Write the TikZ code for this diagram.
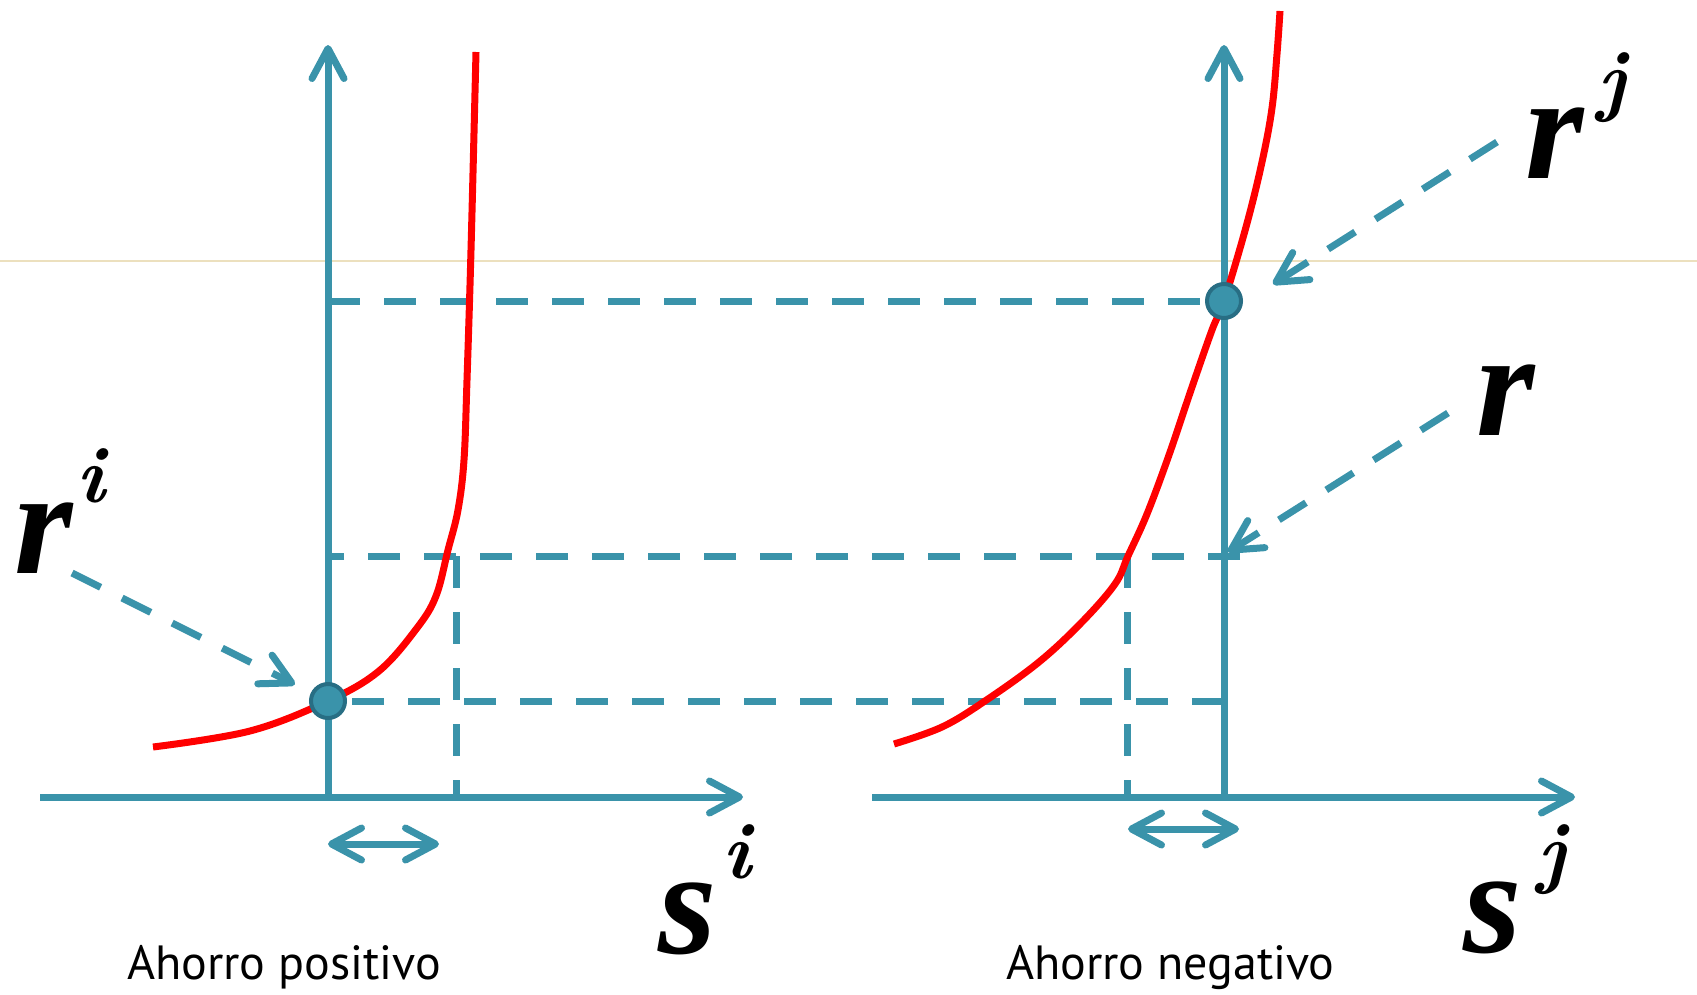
\documentclass[tikz,border=0pt]{standalone}
\usepackage{fontspec}
\newfontfamily\labfont{Liberation Serif}
\newfontfamily\capfont{PT Sans}
\usepackage{xcolor}
\usepackage{tikz}
\usetikzlibrary{arrows.meta,positioning,calc}

\definecolor{axisteal}{RGB}{58,147,170}
\definecolor{dotrim}{RGB}{40,110,132}
\definecolor{guidebeige}{RGB}{236,224,190}
\newcommand{\supfont}{\rmfamily\fontsize{80}{80}\selectfont\bfseries\itshape}

\begin{document}
\begin{tikzpicture}[
  x=1pt, y=-1pt,
  >={Straight Barb[length=30pt, width=32pt, round]},
  axis/.style={->, line width=7pt, axisteal},
  guide/.style={line width=7pt, axisteal, dash pattern=on 32pt off 24pt},
  pointer/.style={guide, ->},
  span/.style={<->, line width=7pt, axisteal},
  demand/.style={line width=7pt, red},
  eqpt/.style={circle, fill=axisteal, draw=dotrim, line width=4pt, minimum size=34pt, inner sep=0pt},
  biglab/.style={inner sep=0pt, anchor=base west, font=\labfont\fontsize{150}{150}\selectfont\bfseries\itshape},
  caption/.style={inner sep=0pt, anchor=base west, font=\capfont\fontsize{48}{48}\selectfont}
]
\useasboundingbox (0,0) rectangle (1697,994);

% faint guide across the slide
\draw[guidebeige, line width=1.2pt] (0,261) -- (1697,261);

% Axis origins and ends
\coordinate (oi) at (328,797);
\coordinate (oj) at (1224,797);
\coordinate (xi-from) at (40,797);
\coordinate (xi-to) at (743,797);
\coordinate (yi-to) at (328,45);
\coordinate (xj-from) at (872,797);
\coordinate (xj-to) at (1575,797);
\coordinate (yj-to) at (1224,45);

% Dashed level lines
\draw[guide] (328,301) -- (1224,301);
\draw[guide] (1240,556) -- (328,556);
\draw[guide] (1224,701) -- (328,701);
\draw[guide] (456,556) -- (456,797);
\draw[guide] (1127,556) -- (1127,797);

% Axes
\draw[axis] (xi-from) -- (xi-to);
\draw[axis] (oi) -- (yi-to);
\draw[axis] (xj-from) -- (xj-to);
\draw[axis] (oj) -- (yj-to);

% Curves
\draw[demand] plot[smooth, tension=0.6] coordinates {(153,747) (250,731) (328,701) (379,671) (417,628) (436,596) (448,550) (458,510) (464,460) (467,380) (471,250) (476,52)};
\draw[demand] plot[smooth, tension=0.6] coordinates {(894,744) (942,727) (985,701) (1039,662) (1082,622) (1115,584) (1128,556) (1147,514) (1169,455) (1191,390) (1212,330) (1224,301) (1246,227) (1262,162) (1272,108) (1277,54) (1280,11)};

% Equilibrium points
\node[eqpt] (dotl) at (328,701) {};
\node[eqpt] (dotr) at (1224,301) {};

% Ranges
\draw[span] (328,844) -- (439,844);
\draw[span] (1128,829) -- (1239,829);

% Labels
\node[biglab] (ri) at (14,573) {r\hspace{4pt}\raisebox{71pt}{\supfont i}};
\node[biglab] (rj) at (1525,178) {r\hspace{14pt}\raisebox{72pt}{\supfont j}};
\node[biglab] (rr) at (1476,435) {r};
\node[biglab] (si) at (658,953) {s\hspace{6pt}\raisebox{75pt}{\supfont i}};
\node[biglab] (sj) at (1463,952) {s\hspace{16pt}\raisebox{74pt}{\supfont j}};
\node[caption] (capi) at (127,979) {Ahorro positivo};
\node[caption] (capj) at (1006,979) {Ahorro negativo};

% Pointers
\coordinate (ri-from) at (72,573);
\coordinate (rj-from) at (1497,142);
\coordinate (rj-to) at (1273,284);
\coordinate (rr-from) at (1448,413);
\coordinate (rr-to) at (1228,552);
\draw[pointer, shorten >=18pt] (ri-from) -- (dotl);
\draw[pointer] (rj-from) -- (rj-to);
\draw[pointer] (rr-from) -- (rr-to);
\end{tikzpicture}
\end{document}
